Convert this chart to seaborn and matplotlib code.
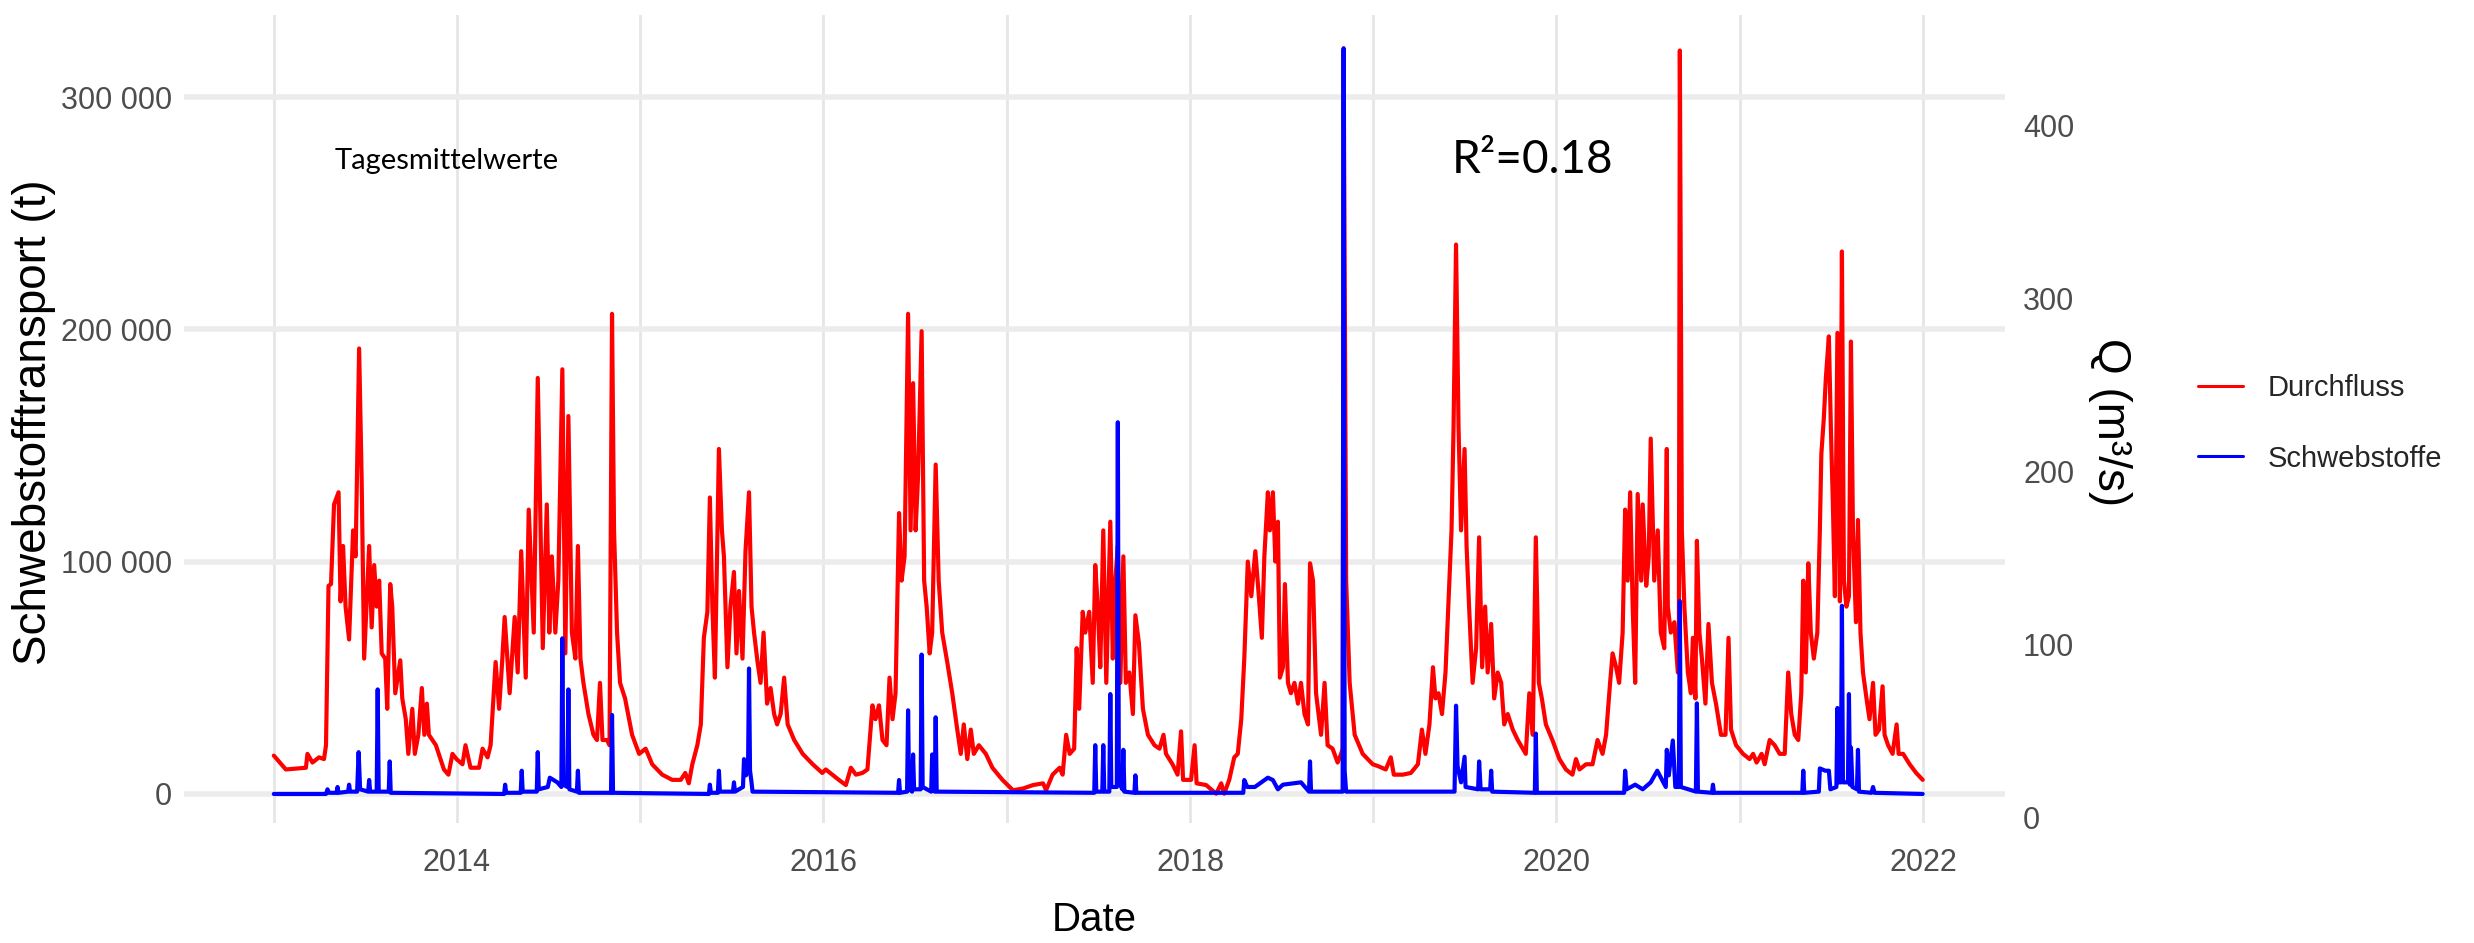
import matplotlib
matplotlib.use("Agg")
import matplotlib.pyplot as plt
from matplotlib.lines import Line2D
import seaborn as sns
import pandas as pd

# ---------------- data ----------------
# Durchfluss Q (m3/s), daily means, key points per year
q_2013 = [("2013-01-01", 36), ("2013-01-25", 28), ("2013-03-06", 29), ("2013-03-09", 37), ("2013-03-19", 32),
          ("2013-04-01", 35), ("2013-04-11", 34), ("2013-04-15", 42), ("2013-04-20", 134), ("2013-04-25", 135),
          ("2013-05-01", 181), ("2013-05-10", 188), ("2013-05-14", 125), ("2013-05-19", 157), ("2013-05-24", 122),
          ("2013-05-31", 103), ("2013-06-08", 166), ("2013-06-13", 151), ("2013-06-20", 271), ("2013-06-25", 196),
          ("2013-06-30", 92), ("2013-07-10", 157), ("2013-07-15", 110), ("2013-07-20", 146), ("2013-07-25", 122),
          ("2013-07-30", 137), ("2013-08-04", 95), ("2013-08-11", 92), ("2013-08-15", 63), ("2013-08-21", 135),
          ("2013-08-25", 122), ("2013-08-31", 72), ("2013-09-10", 91), ("2013-09-14", 69), ("2013-09-21", 57),
          ("2013-09-26", 37), ("2013-10-04", 63), ("2013-10-09", 37), ("2013-10-16", 48), ("2013-10-23", 75),
          ("2013-10-28", 48), ("2013-11-02", 66), ("2013-11-06", 48), ("2013-11-20", 42), ("2013-12-06", 28),
          ("2013-12-15", 25), ("2013-12-23", 37), ("2013-12-31", 34)]
q_2014 = [("2014-01-12", 31), ("2014-01-18", 42), ("2014-01-28", 29), ("2014-02-14", 29), ("2014-02-21", 40),
          ("2014-03-03", 35), ("2014-03-09", 42), ("2014-03-19", 90), ("2014-03-26", 63), ("2014-04-01", 90),
          ("2014-04-06", 116), ("2014-04-16", 72), ("2014-04-26", 116), ("2014-05-02", 84), ("2014-05-09", 154),
          ("2014-05-18", 81), ("2014-05-24", 178), ("2014-06-03", 107), ("2014-06-11", 254), ("2014-06-17", 160),
          ("2014-06-21", 98), ("2014-06-29", 181), ("2014-07-04", 107), ("2014-07-09", 151), ("2014-07-16", 107),
          ("2014-07-22", 137), ("2014-07-30", 259), ("2014-08-05", 95), ("2014-08-11", 232), ("2014-08-18", 107),
          ("2014-08-25", 92), ("2014-08-30", 157), ("2014-09-04", 92), ("2014-09-10", 78), ("2014-09-20", 60),
          ("2014-09-30", 48), ("2014-10-07", 45), ("2014-10-13", 78), ("2014-10-18", 45), ("2014-10-27", 45),
          ("2014-11-01", 42), ("2014-11-06", 291), ("2014-11-10", 166), ("2014-11-16", 107), ("2014-11-22", 78),
          ("2014-12-02", 69), ("2014-12-16", 48), ("2014-12-30", 37)]
q_2015 = [("2015-01-12", 40), ("2015-01-25", 31), ("2015-02-14", 25), ("2015-03-06", 22), ("2015-03-23", 22),
          ("2015-04-01", 26), ("2015-04-08", 20), ("2015-04-15", 31), ("2015-04-25", 42), ("2015-05-02", 54),
          ("2015-05-08", 104), ("2015-05-15", 119), ("2015-05-20", 185), ("2015-05-25", 122), ("2015-05-30", 81),
          ("2015-06-07", 213), ("2015-06-13", 166), ("2015-06-17", 151), ("2015-06-24", 87), ("2015-06-30", 122),
          ("2015-07-07", 142), ("2015-07-12", 95), ("2015-07-17", 131), ("2015-07-24", 92), ("2015-07-30", 154),
          ("2015-08-06", 188), ("2015-08-11", 122), ("2015-08-16", 107), ("2015-08-23", 90), ("2015-08-29", 78),
          ("2015-09-04", 107), ("2015-09-11", 66), ("2015-09-18", 75), ("2015-09-25", 60), ("2015-10-01", 54),
          ("2015-10-08", 60), ("2015-10-15", 81), ("2015-10-22", 54), ("2015-11-04", 45), ("2015-11-21", 37),
          ("2015-12-11", 31), ("2015-12-30", 26)]
q_2016 = [("2016-01-06", 28), ("2016-02-01", 22), ("2016-02-15", 19), ("2016-02-25", 29), ("2016-03-06", 25),
          ("2016-03-19", 26), ("2016-03-29", 28), ("2016-04-08", 65), ("2016-04-14", 57), ("2016-04-21", 65),
          ("2016-04-28", 45), ("2016-05-06", 42), ("2016-05-12", 81), ("2016-05-18", 57), ("2016-05-24", 72),
          ("2016-05-31", 176), ("2016-06-05", 137), ("2016-06-11", 151), ("2016-06-18", 291), ("2016-06-23", 166),
          ("2016-06-28", 251), ("2016-07-03", 166), ("2016-07-08", 198), ("2016-07-15", 281), ("2016-07-20", 137),
          ("2016-07-25", 122), ("2016-07-31", 95), ("2016-08-05", 107), ("2016-08-12", 204), ("2016-08-18", 137),
          ("2016-08-25", 107), ("2016-09-04", 90), ("2016-09-14", 72), ("2016-09-24", 51), ("2016-10-01", 37),
          ("2016-10-07", 54), ("2016-10-14", 34), ("2016-10-21", 51), ("2016-10-27", 37), ("2016-11-06", 42),
          ("2016-11-20", 37), ("2016-12-03", 29), ("2016-12-23", 22)]
q_2017 = [("2017-01-13", 16), ("2017-02-02", 17), ("2017-02-22", 19), ("2017-03-14", 20), ("2017-03-20", 16),
          ("2017-04-02", 25), ("2017-04-16", 29), ("2017-04-22", 25), ("2017-04-29", 48), ("2017-05-06", 37),
          ("2017-05-15", 40), ("2017-05-20", 98), ("2017-05-25", 63), ("2017-06-01", 119), ("2017-06-06", 107),
          ("2017-06-14", 119), ("2017-06-21", 78), ("2017-06-26", 146), ("2017-07-01", 122), ("2017-07-06", 87),
          ("2017-07-12", 166), ("2017-07-18", 78), ("2017-07-26", 171), ("2017-07-31", 92), ("2017-08-05", 137),
          ("2017-08-10", 157), ("2017-08-15", 78), ("2017-08-21", 151), ("2017-08-26", 78), ("2017-09-02", 84),
          ("2017-09-09", 60), ("2017-09-14", 117), ("2017-09-21", 101), ("2017-09-29", 63), ("2017-10-09", 48),
          ("2017-10-22", 42), ("2017-11-01", 40), ("2017-11-09", 48), ("2017-11-14", 37), ("2017-11-27", 31),
          ("2017-12-07", 25), ("2017-12-14", 50), ("2017-12-18", 22)]
q_2018 = [("2018-01-03", 22), ("2018-01-10", 42), ("2018-01-14", 20), ("2018-02-02", 19), ("2018-02-22", 14),
          ("2018-03-04", 20), ("2018-03-10", 14), ("2018-03-20", 22), ("2018-03-30", 35), ("2018-04-06", 37),
          ("2018-04-13", 57), ("2018-04-19", 92), ("2018-04-26", 148), ("2018-05-03", 128), ("2018-05-11", 154),
          ("2018-05-18", 128), ("2018-05-24", 104), ("2018-05-29", 151), ("2018-06-05", 188), ("2018-06-09", 166),
          ("2018-06-15", 188), ("2018-06-20", 148), ("2018-06-25", 171), ("2018-06-29", 81), ("2018-07-05", 87),
          ("2018-07-09", 135), ("2018-07-15", 78), ("2018-07-21", 72), ("2018-07-28", 78), ("2018-08-04", 66),
          ("2018-08-10", 78), ("2018-08-17", 60), ("2018-08-24", 54), ("2018-08-28", 147), ("2018-09-03", 137),
          ("2018-09-09", 72), ("2018-09-19", 48), ("2018-09-26", 78), ("2018-10-02", 42), ("2018-10-12", 40),
          ("2018-10-22", 32), ("2018-10-29", 37), ("2018-11-01", 40), ("2018-11-03", 443), ("2018-11-08", 137),
          ("2018-11-15", 78), ("2018-11-25", 48), ("2018-12-11", 37), ("2018-12-31", 31)]
q_2019 = [("2019-01-10", 30), ("2019-01-26", 28), ("2019-02-05", 35), ("2019-02-11", 25), ("2019-03-01", 25),
          ("2019-03-17", 26), ("2019-03-31", 31), ("2019-04-08", 51), ("2019-04-15", 37), ("2019-04-23", 54),
          ("2019-04-30", 87), ("2019-05-05", 69), ("2019-05-11", 72), ("2019-05-18", 60), ("2019-05-25", 84),
          ("2019-05-31", 125), ("2019-06-06", 166), ("2019-06-10", 225), ("2019-06-15", 331), ("2019-06-20", 225),
          ("2019-06-25", 166), ("2019-07-02", 213), ("2019-07-06", 157), ("2019-07-11", 122), ("2019-07-18", 78),
          ("2019-07-25", 98), ("2019-07-31", 162), ("2019-08-06", 87), ("2019-08-12", 122), ("2019-08-17", 84),
          ("2019-08-24", 112), ("2019-08-30", 69), ("2019-09-06", 84), ("2019-09-13", 78), ("2019-09-19", 54),
          ("2019-09-26", 60), ("2019-10-06", 51), ("2019-10-16", 45), ("2019-10-26", 40), ("2019-11-01", 37),
          ("2019-11-08", 72), ("2019-11-15", 48), ("2019-11-21", 162), ("2019-11-27", 78), ("2019-12-03", 69),
          ("2019-12-11", 54), ("2019-12-24", 45)]
q_2020 = [("2020-01-07", 34), ("2020-01-20", 28), ("2020-02-02", 25), ("2020-02-09", 34), ("2020-02-16", 28),
          ("2020-02-29", 31), ("2020-03-13", 31), ("2020-03-23", 45), ("2020-04-02", 37), ("2020-04-09", 48),
          ("2020-04-17", 78), ("2020-04-22", 95), ("2020-04-29", 87), ("2020-05-05", 78), ("2020-05-12", 107),
          ("2020-05-17", 178), ("2020-05-22", 137), ("2020-05-27", 188), ("2020-06-01", 122), ("2020-06-06", 78),
          ("2020-06-11", 187), ("2020-06-18", 137), ("2020-06-21", 181), ("2020-06-28", 134), ("2020-07-03", 151),
          ("2020-07-07", 219), ("2020-07-14", 137), ("2020-07-21", 166), ("2020-07-27", 107), ("2020-08-03", 98),
          ("2020-08-08", 213), ("2020-08-10", 122), ("2020-08-16", 107), ("2020-08-23", 113), ("2020-08-30", 84),
          ("2020-09-01", 85), ("2020-09-03", 443), ("2020-09-07", 166), ("2020-09-12", 122), ("2020-09-19", 84),
          ("2020-09-25", 72), ("2020-09-29", 104), ("2020-10-04", 69), ("2020-10-07", 160), ("2020-10-12", 107),
          ("2020-10-17", 92), ("2020-10-24", 66), ("2020-10-30", 112), ("2020-11-06", 78), ("2020-11-14", 66),
          ("2020-11-24", 48), ("2020-12-03", 48), ("2020-12-09", 104), ("2020-12-14", 51), ("2020-12-24", 42)]
q_2021 = [("2021-01-07", 37), ("2021-01-20", 34), ("2021-01-27", 37), ("2021-02-03", 32), ("2021-02-13", 37),
          ("2021-02-19", 31), ("2021-03-01", 45), ("2021-03-11", 42), ("2021-03-21", 37), ("2021-03-31", 37),
          ("2021-04-07", 84), ("2021-04-13", 60), ("2021-04-20", 48), ("2021-04-27", 45), ("2021-05-03", 72),
          ("2021-05-07", 137), ("2021-05-12", 84), ("2021-05-17", 147), ("2021-05-22", 107), ("2021-05-28", 92),
          ("2021-06-04", 107), ("2021-06-09", 166), ("2021-06-12", 210), ("2021-06-17", 231), ("2021-06-21", 254),
          ("2021-06-27", 278), ("2021-07-01", 225), ("2021-07-05", 181), ("2021-07-09", 128), ("2021-07-14", 280),
          ("2021-07-19", 125), ("2021-07-23", 327), ("2021-07-27", 137), ("2021-08-01", 122), ("2021-08-06", 128),
          ("2021-08-10", 275), ("2021-08-14", 166), ("2021-08-20", 113), ("2021-08-24", 172), ("2021-08-29", 107),
          ("2021-09-03", 84), ("2021-09-10", 69), ("2021-09-16", 57), ("2021-09-23", 78), ("2021-09-28", 48),
          ("2021-10-05", 51), ("2021-10-12", 76), ("2021-10-16", 48), ("2021-10-23", 42), ("2021-11-01", 37),
          ("2021-11-09", 54), ("2021-11-13", 37), ("2021-11-22", 37), ("2021-12-05", 31), ("2021-12-18", 26),
          ("2021-12-31", 22)]

# Schwebstofftransport (t), daily values, key points
ss_2013 = [("2013-01-01", 0), ("2013-04-15", 0), ("2013-04-18", 2000), ("2013-04-21", 500), ("2013-05-06", 500),
           ("2013-05-08", 3000), ("2013-05-10", 500), ("2013-05-29", 1000), ("2013-05-31", 4000), ("2013-06-02", 1000),
           ("2013-06-16", 1000), ("2013-06-19", 18000), ("2013-06-22", 2000), ("2013-07-08", 1000), ("2013-07-10", 6000),
           ("2013-07-12", 1000), ("2013-07-25", 1000), ("2013-07-27", 45000), ("2013-07-29", 1000), ("2013-08-18", 1000),
           ("2013-08-20", 14000), ("2013-08-22", 500)]
ss_2014 = [("2014-04-05", 0), ("2014-04-07", 4000), ("2014-04-09", 500), ("2014-05-08", 500), ("2014-05-10", 10000),
           ("2014-05-12", 1000), ("2014-06-09", 1000), ("2014-06-11", 18000), ("2014-06-13", 2000), ("2014-07-01", 3000),
           ("2014-07-05", 7000), ("2014-07-20", 5000), ("2014-07-28", 3000), ("2014-07-30", 67000), ("2014-08-01", 4000),
           ("2014-08-09", 3000), ("2014-08-11", 45000), ("2014-08-13", 2000), ("2014-08-28", 1000), ("2014-08-30", 10000),
           ("2014-09-01", 500), ("2014-11-04", 500), ("2014-11-06", 34000), ("2014-11-08", 500)]
ss_2015 = [("2015-05-18", 0), ("2015-05-20", 4000), ("2015-05-22", 500), ("2015-06-05", 500), ("2015-06-07", 10000),
           ("2015-06-09", 1000), ("2015-07-05", 1000), ("2015-07-07", 5000), ("2015-07-09", 1000), ("2015-07-25", 3000),
           ("2015-07-27", 15000), ("2015-07-31", 8000), ("2015-08-04", 10000), ("2015-08-06", 54000), ("2015-08-08", 10000),
           ("2015-08-11", 5000), ("2015-08-13", 1000)]
ss_2016 = [("2016-05-29", 500), ("2016-05-31", 6000), ("2016-06-02", 500), ("2016-06-16", 1000), ("2016-06-18", 36000),
           ("2016-06-20", 2000), ("2016-06-26", 1000), ("2016-06-28", 17000), ("2016-06-30", 2000), ("2016-07-13", 2000),
           ("2016-07-15", 60000), ("2016-07-17", 3000), ("2016-08-03", 1000), ("2016-08-05", 17000), ("2016-08-07", 2000),
           ("2016-08-10", 1000), ("2016-08-12", 33000), ("2016-08-14", 1000)]
ss_2017 = [("2017-06-24", 500), ("2017-06-26", 21000), ("2017-06-28", 1000), ("2017-07-10", 1000), ("2017-07-12", 21000),
           ("2017-07-14", 1000), ("2017-07-24", 1000), ("2017-07-26", 43000), ("2017-07-28", 3000), ("2017-08-08", 3000),
           ("2017-08-10", 160000), ("2017-08-12", 5000), ("2017-08-19", 2000), ("2017-08-21", 19000), ("2017-08-23", 1000),
           ("2017-09-12", 500), ("2017-09-14", 8000), ("2017-09-16", 500)]
ss_2018 = [("2018-04-17", 500), ("2018-04-19", 6000), ("2018-04-25", 3000), ("2018-05-10", 3000), ("2018-06-05", 7000),
           ("2018-06-15", 6000), ("2018-06-25", 2000), ("2018-07-05", 4000), ("2018-08-10", 5000), ("2018-08-26", 1000),
           ("2018-08-28", 14000), ("2018-08-30", 1000), ("2018-11-01", 1000), ("2018-11-03", 321000), ("2018-11-05", 10000),
           ("2018-11-08", 1000)]
ss_2019 = [("2019-06-12", 1000), ("2019-06-15", 38000), ("2019-06-18", 12000), ("2019-06-25", 5000), ("2019-07-02", 16000),
           ("2019-07-04", 3000), ("2019-07-29", 2000), ("2019-07-31", 14000), ("2019-08-03", 2000), ("2019-08-22", 2000),
           ("2019-08-24", 10000), ("2019-08-26", 1000), ("2019-11-19", 500), ("2019-11-21", 26000), ("2019-11-23", 500)]
ss_2020 = [("2020-05-15", 500), ("2020-05-17", 10000), ("2020-05-20", 2000), ("2020-06-06", 4000), ("2020-06-21", 2000),
           ("2020-07-07", 5000), ("2020-07-20", 10000), ("2020-08-06", 3000), ("2020-08-08", 19000), ("2020-08-12", 8000),
           ("2020-08-20", 23000), ("2020-08-25", 3000), ("2020-09-01", 3000), ("2020-09-03", 83000), ("2020-09-05", 3000),
           ("2020-10-05", 1000), ("2020-10-07", 39000), ("2020-10-09", 1000), ("2020-11-06", 500), ("2020-11-08", 4000),
           ("2020-11-10", 500)]
ss_2021 = [("2021-05-05", 500), ("2021-05-07", 10000), ("2021-05-09", 500), ("2021-06-07", 1000), ("2021-06-09", 11000),
           ("2021-06-20", 10000), ("2021-06-27", 10000), ("2021-06-30", 2000), ("2021-07-12", 3000), ("2021-07-14", 37000),
           ("2021-07-17", 5000), ("2021-07-21", 5000), ("2021-07-23", 81000), ("2021-07-25", 5000), ("2021-08-04", 5000),
           ("2021-08-06", 43000), ("2021-08-08", 4000), ("2021-08-10", 20000), ("2021-08-13", 3000), ("2021-08-22", 2000),
           ("2021-08-24", 19000), ("2021-08-26", 1000), ("2021-09-20", 500), ("2021-09-23", 3000), ("2021-09-26", 500),
           ("2021-12-31", 0)]

left_ticks = [0, 100000, 200000, 300000]
left_labels = ["0", "100 000", "200 000", "300 000"]
right_ticks = [0, 100, 200, 300, 400]
right_labels = ["0", "100", "200", "300", "400"]
year_ticks = ["2014-01-01", "2016-01-01", "2018-01-01", "2020-01-01", "2022-01-01"]
year_labels = ["2014", "2016", "2018", "2020", "2022"]
minor_years = ["2013-01-01", "2015-01-01", "2017-01-01", "2019-01-01", "2021-01-01"]
series_names = ["Durchfluss", "Schwebstoffe"]
series_colors = ["#FF0000", "#0000FF"]

# ---------------- build frames ----------------
q_all = q_2013 + q_2014 + q_2015 + q_2016 + q_2017 + q_2018 + q_2019 + q_2020 + q_2021
ss_all = ss_2013 + ss_2014 + ss_2015 + ss_2016 + ss_2017 + ss_2018 + ss_2019 + ss_2020 + ss_2021
df_q = pd.DataFrame(q_all, columns=["Date", "Q"])
df_q["Date"] = pd.to_datetime(df_q["Date"])
df_s = pd.DataFrame(ss_all, columns=["Date", "SS"])
df_s["Date"] = pd.to_datetime(df_s["Date"])

# ---------------- plotting ----------------
sns.set_theme(style="white")
REG = ["Liberation Sans", "DejaVu Sans"]
plt.rcParams["font.family"] = REG

W, H = 2474, 943
fig = plt.figure(figsize=(W / 100, H / 100), dpi=100)
PL, PR, PT, PB = 184, 2005, 15, 823
ax = fig.add_axes([PL / W, 1 - PB / H, (PR - PL) / W, (PB - PT) / H])
axq = ax.twinx()
axs = ax.twinx()

sns.lineplot(data=df_q, x="Date", y="Q", ax=axq, color=series_colors[0], lw=3.0,
             estimator=None, legend=False)
sns.lineplot(data=df_s, x="Date", y="SS", ax=axs, color=series_colors[1], lw=3.0,
             estimator=None, legend=False)

ax.set_xlim(pd.Timestamp("2012-07-06"), pd.Timestamp("2022-06-13"))
ax.set_ylim(-12500, 335300)
axs.set_ylim(-12500, 335300)
axq.set_ylim(-2.9, 463.5)
axs.axis("off")

for a in (ax, axq, axs):
    for s in a.spines.values():
        s.set_visible(False)

ax.set_yticks(left_ticks, left_labels)
ax.set_xticks(pd.to_datetime(year_ticks), year_labels)
ax.set_xticks(pd.to_datetime(minor_years), minor=True)
ax.tick_params(axis="both", which="both", length=0)
ax.tick_params(axis="y", labelsize=22, labelcolor="#4D4D4D", pad=8.6)
ax.tick_params(axis="x", labelsize=22, labelcolor="#4D4D4D", pad=18)
ax.grid(True, axis="y", which="major", color="#ECECEC", lw=4)
ax.grid(True, axis="x", which="both", color="#E6E6E6", lw=2)

axq.set_yticks(right_ticks, right_labels)
axq.tick_params(axis="y", length=0, labelsize=22, labelcolor="#4D4D4D", pad=13)

ax.set_xlabel("Date", fontsize=29, color="black", va="center")
ax.xaxis.set_label_coords(0.5, (PB - 920) / (PB - PT))
ax.set_ylabel("Schwebstofftransport (t)", fontsize=33, color="black",
              va="center", ha="center")
ax.yaxis.set_label_coords((34 - PL) / (PR - PL), (PB - 422) / (PB - PT))
axq.set_xlabel("")
axq.set_ylabel("Q (m\u00b3/s)", fontsize=33, color="black", rotation=-90,
               va="center", ha="center")
axq.yaxis.set_label_coords((2110 - PL) / (PR - PL), (PB - 422) / (PB - PT))

handles = [Line2D([], [], color=c, lw=2.2) for c in series_colors]
fig.legend(handles=handles, labels=series_names, loc="center left",
           bbox_to_anchor=(2198 / W, 1 - 423.5 / H), frameon=False, fontsize=21,
           handlelength=1.55, handletextpad=0.85, labelspacing=1.45,
           borderpad=0, borderaxespad=0)

fig.text(447 / W, 1 - 161 / H, "Tagesmittelwerte", fontsize=21, family=["Lato", "DejaVu Sans"],
         ha="center", va="center", color="black")
fig.text(1533 / W, 1 - 160 / H, "R\u00b2=0.18", fontsize=33, family=["Lato", "DejaVu Sans"],
         ha="center", va="center", color="black")

fig.savefig("out.png", dpi=100)
